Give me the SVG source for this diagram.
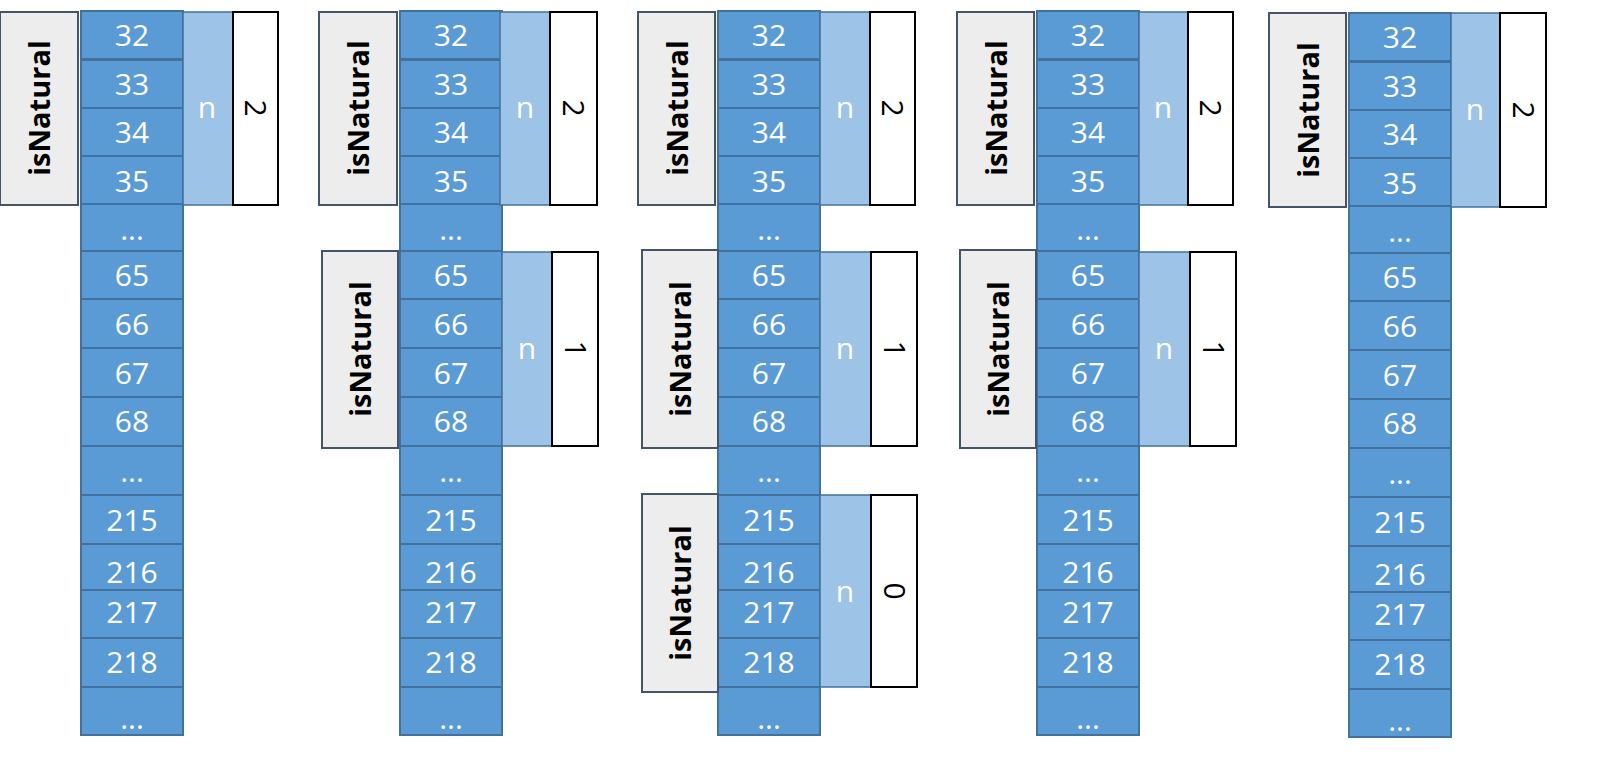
<svg xmlns="http://www.w3.org/2000/svg" xmlns:xlink="http://www.w3.org/1999/xlink" width="1598" height="772" viewBox="0 0 1598 772">
<style>
.m{fill:#5b9bd5;stroke:#41719c;stroke-width:2}
.mt{fill:#fff;font-family:"Open Sans","Liberation Sans",sans-serif;font-size:30px;text-anchor:middle}
.f{fill:#ededed;stroke:#44546a;stroke-width:2}
.ft{fill:#000;font-family:"Open Sans","Liberation Sans",sans-serif;font-size:29px;font-weight:bold;text-anchor:middle}
.n{fill:#9dc3e6;stroke:#41719c;stroke-width:1.5}
.nt{fill:#fff;font-family:"Open Sans","Liberation Sans",sans-serif;font-size:30px;text-anchor:middle}
.v{fill:#fff;stroke:#000;stroke-width:2}
.vt{fill:#000;font-family:"Open Sans","Liberation Sans",sans-serif;font-size:30px;text-anchor:middle}
</style>
<defs>
<g id="mem">
<rect class="m" x="0" y="11" width="102" height="48"/><text class="mt" x="51" y="46">32</text>
<rect class="m" x="0" y="60" width="102" height="48"/><text class="mt" x="51" y="95">33</text>
<rect class="m" x="0" y="108" width="102" height="48"/><text class="mt" x="51" y="143">34</text>
<rect class="m" x="0" y="156" width="102" height="48"/><text class="mt" x="51" y="192">35</text>
<rect class="m" x="0" y="204" width="102" height="47"/><text class="mt" x="51" y="240">...</text>
<rect class="m" x="0" y="251" width="102" height="48"/><text class="mt" x="51" y="286">65</text>
<rect class="m" x="0" y="299" width="102" height="49"/><text class="mt" x="51" y="335">66</text>
<rect class="m" x="0" y="348" width="102" height="49"/><text class="mt" x="51" y="384">67</text>
<rect class="m" x="0" y="397" width="102" height="49"/><text class="mt" x="51" y="432">68</text>
<rect class="m" x="0" y="446" width="102" height="49"/><text class="mt" x="51" y="482">...</text>
<rect class="m" x="0" y="495" width="102" height="49"/><text class="mt" x="51" y="531">215</text>
<rect class="m" x="0" y="544" width="102" height="46"/><text class="mt" x="51" y="583">216</text>
<rect class="m" x="0" y="590" width="102" height="48"/><text class="mt" x="51" y="623">217</text>
<rect class="m" x="0" y="638" width="102" height="49"/><text class="mt" x="51" y="673">218</text>
<rect class="m" x="0" y="687" width="102" height="48"/><text class="mt" x="51" y="729">...</text>
</g>
</defs>
<g id="memory">
<use xlink:href="#mem" x="81" y="0"/>
<use xlink:href="#mem" x="400" y="0"/>
<use xlink:href="#mem" x="718" y="0"/>
<use xlink:href="#mem" x="1037" y="0"/>
<use xlink:href="#mem" x="1349" y="2"/>
</g>
<g id="frame1a">
<rect class="f" x="0" y="12" width="78" height="193"/><text class="ft" transform="translate(50,108) rotate(-90)">isNatural</text>
<rect class="n" x="183" y="12" width="50" height="193"/><text class="nt" x="207" y="118">n</text>
<rect class="v" x="233" y="12" width="45" height="193"/><text class="vt" transform="translate(245,108) rotate(90)">2</text>
</g>
<g id="frame2a">
<rect class="f" x="319" y="12" width="78" height="193"/><text class="ft" transform="translate(369,108) rotate(-90)">isNatural</text>
<rect class="n" x="500" y="12" width="50" height="193"/><text class="nt" x="525" y="118">n</text>
<rect class="v" x="550" y="12" width="47" height="193"/><text class="vt" transform="translate(563,108) rotate(90)">2</text>
</g>
<g id="frame2b">
<rect class="f" x="322" y="251" width="76" height="197"/><text class="ft" transform="translate(371,349) rotate(-90)">isNatural</text>
<rect class="n" x="502" y="252" width="50" height="194"/><text class="nt" x="527" y="359">n</text>
<rect class="v" x="552" y="252" width="46" height="194"/><text class="vt" transform="translate(565,349) rotate(90)">1</text>
</g>
<g id="frame3a">
<rect class="f" x="638" y="12" width="77" height="193"/><text class="ft" transform="translate(688,108) rotate(-90)">isNatural</text>
<rect class="n" x="820" y="12" width="50" height="193"/><text class="nt" x="845" y="118">n</text>
<rect class="v" x="870" y="12" width="45" height="193"/><text class="vt" transform="translate(882,108) rotate(90)">2</text>
</g>
<g id="frame3b">
<rect class="f" x="642" y="250" width="76" height="198"/><text class="ft" transform="translate(691,349) rotate(-90)">isNatural</text>
<rect class="n" x="820" y="252" width="51" height="194"/><text class="nt" x="845" y="359">n</text>
<rect class="v" x="871" y="252" width="46" height="194"/><text class="vt" transform="translate(884,349) rotate(90)">1</text>
</g>
<g id="frame3c">
<rect class="f" x="642" y="494" width="76" height="198"/><text class="ft" transform="translate(691,593) rotate(-90)">isNatural</text>
<rect class="n" x="820" y="495" width="51" height="192"/><text class="nt" x="845" y="602">n</text>
<rect class="v" x="871" y="495" width="46" height="192"/><text class="vt" transform="translate(884,591) rotate(90)">0</text>
</g>
<g id="frame4a">
<rect class="f" x="957" y="12" width="77" height="193"/><text class="ft" transform="translate(1007,108) rotate(-90)">isNatural</text>
<rect class="n" x="1139" y="12" width="49" height="193"/><text class="nt" x="1163" y="118">n</text>
<rect class="v" x="1188" y="12" width="45" height="193"/><text class="vt" transform="translate(1200,108) rotate(90)">2</text>
</g>
<g id="frame4b">
<rect class="f" x="960" y="250" width="76" height="198"/><text class="ft" transform="translate(1009,349) rotate(-90)">isNatural</text>
<rect class="n" x="1139" y="252" width="51" height="194"/><text class="nt" x="1164" y="359">n</text>
<rect class="v" x="1190" y="252" width="46" height="194"/><text class="vt" transform="translate(1203,349) rotate(90)">1</text>
</g>
<g id="frame5a">
<rect class="f" x="1269" y="13" width="77" height="194"/><text class="ft" transform="translate(1319,110) rotate(-90)">isNatural</text>
<rect class="n" x="1451" y="13" width="49" height="194"/><text class="nt" x="1475" y="120">n</text>
<rect class="v" x="1500" y="13" width="46" height="194"/><text class="vt" transform="translate(1513,110) rotate(90)">2</text>
</g>
<g id="connectors"/>
</svg>
